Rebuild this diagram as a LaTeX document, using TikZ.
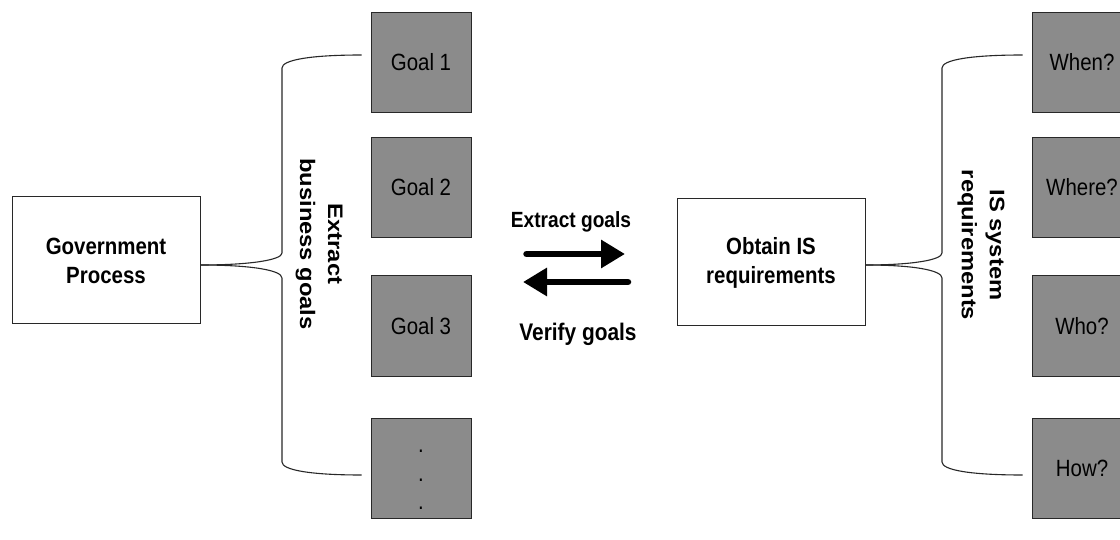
\documentclass[tikz,border=0pt]{standalone}
\usepackage{fontspec}
\setmainfont{Liberation Sans}[FakeStretch=0.87]
\newfontfamily\rotfont{Liberation Sans}[FakeStretch=1.13]
\usetikzlibrary{arrows.meta,calc}
\definecolor{boxgray}{RGB}{139,139,139}
\definecolor{linecol}{RGB}{40,40,40}
\begin{document}
\begin{tikzpicture}[x=1pt,y=-1pt,
  whitebox/.style={draw=linecol, line width=1pt, fill=white, minimum width=188pt, minimum height=127pt, inner sep=0pt, align=center, font=\fontsize{23.5}{29}\selectfont\bfseries},
  graybox/.style={draw=linecol, line width=1pt, fill=boxgray, minimum width=100pt, minimum height=100pt, inner sep=0pt, font=\fontsize{23.5}{28}\selectfont},
  brace/.style={draw=linecol, line width=1.1pt},
  bracelabel/.style={rotate=-90, align=center, font=\rotfont\fontsize{21}{28}\selectfont\bfseries},
  bigarrow/.style={line width=6.5pt, line cap=round, -{Triangle[length=24pt,width=27pt]}},
  arrowlabel/.style={font=\fontsize{22}{26}\selectfont\bfseries, anchor=base}
]
\clip (0,0) rectangle (1120,540);
\fill[white] (0,0) rectangle (1120,540);

% main boxes
\node[whitebox] (gov) at (106,260.5) {Government\\Process};
\node[whitebox] (obt) at (771,262.5) {Obtain IS\\requirements};

% goal boxes
\node[graybox] (g1) at (421,62.5) {Goal 1};
\node[graybox] (g2) at (421,187.5) {Goal 2};
\node[graybox] (g3) at (421,326) {Goal 3};
\node[graybox] (g4) at (421,468) {\raisebox{-12pt}[\height][\depth]{\vbox{\baselineskip=28.5pt\hbox{.}\hbox{.}\hbox{.}}}};

% question boxes
\node[graybox] (q1) at (1082,62.5) {When?};
\node[graybox] (q2) at (1082,187.5) {Where?};
\node[graybox] (q3) at (1082,326) {Who?};
\node[graybox] (q4) at (1082,468) {How?};

% brace end points
\coordinate (lt) at ($(gov.east)+(0,4.5)$);
\coordinate (lg1) at ($(g1.west)+(-9,-7.5)$);
\coordinate (lg4) at ($(g4.west)+(-9,7)$);
\coordinate (rt) at ($(obt.east)+(0,2.5)$);
\coordinate (rq1) at ($(q1.west)+(-9,-7.5)$);
\coordinate (rq4) at ($(q4.west)+(-9,7)$);

% left brace
\draw[brace] (lt) .. controls (250,265) and (282,260) .. (282,253) -- (282,68) .. controls (282,60) and (310,55) .. (lg1);
\draw[brace] (lt) .. controls (250,265) and (282,270) .. (282,278) -- (282,462) .. controls (282,470) and (310,475) .. (lg4);

% right brace
\draw[brace] (rt) .. controls (912,265) and (942,260) .. (942,253) -- (942,68) .. controls (942,60) and (970,55) .. (rq1);
\draw[brace] (rt) .. controls (912,265) and (942,270) .. (942,278) -- (942,462) .. controls (942,470) and (970,475) .. (rq4);

% brace labels
\node[bracelabel] (lbl1) at (319,244) {Extract\\business goals};
\node[bracelabel] (lbl2) at (981,245) {IS system\\requirements};

% arrows
\coordinate (a1s) at (526.5,254);
\coordinate (a1e) at (625,254);
\coordinate (a2s) at (628,282);
\coordinate (a2e) at (523,282);
\draw[bigarrow] (a1s) -- (a1e);
\draw[bigarrow] (a2s) -- (a2e);

\node[arrowlabel] (el) at (571,228) {Extract goals};
\node[arrowlabel, font=\fontsize{24}{28}\selectfont\bfseries] (vl) at (578,341) {Verify goals};
\end{tikzpicture}
\end{document}
